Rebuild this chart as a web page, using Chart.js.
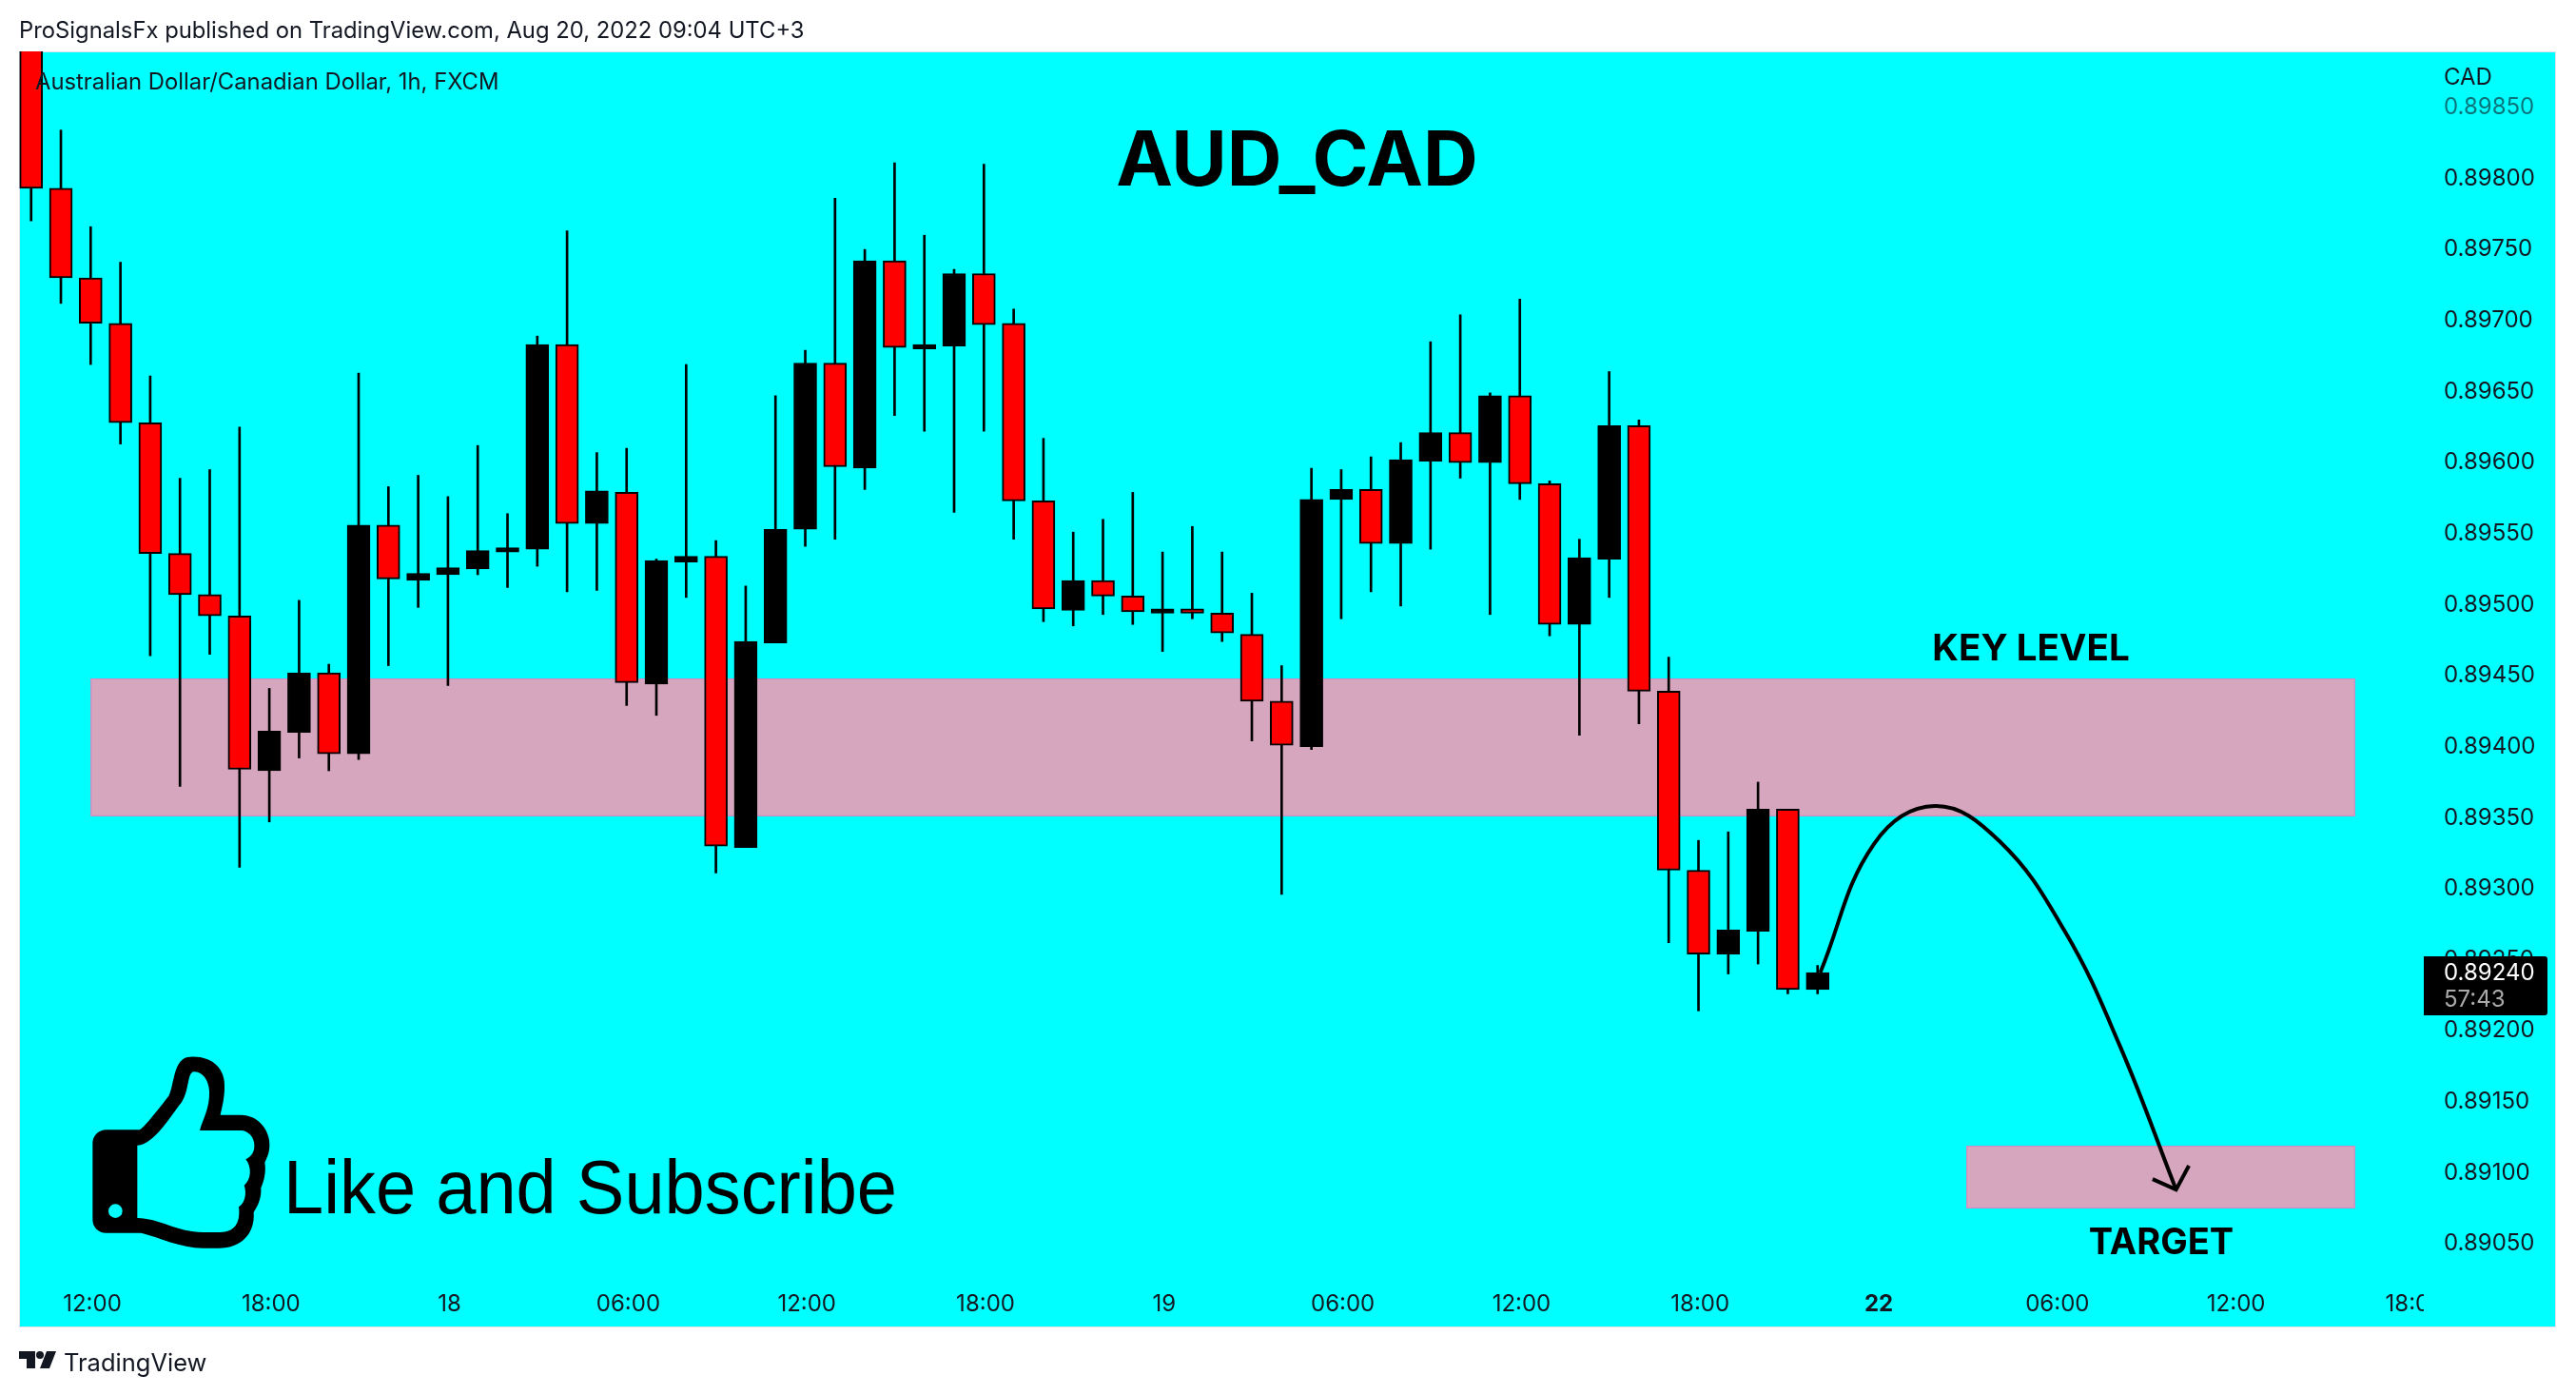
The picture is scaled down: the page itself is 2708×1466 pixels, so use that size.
<!DOCTYPE html>
<html>
<head>
<meta charset="utf-8">
<title>AUD_CAD</title>
<script src="https://cdn.jsdelivr.net/npm/chart.js@4"></script>
<style>
  html, body { margin: 0; padding: 0; background: #fff; }
  canvas { display: block; }
</style>
</head>
<body>
<canvas id="grafica" width="2708" height="1466"></canvas>
<script>
const opens = [0.89938,0.89792,0.89729,0.89697,0.89627,0.89535,0.89506,0.89491,0.89382,0.89409,
  0.89451,0.89394,0.89555,0.89516,0.89520,0.89524,0.89536,0.89538,0.89682,0.89556,
  0.89578,0.89443,0.89529,0.89533,0.89328,0.89472,0.89552,0.89669,0.89595,0.89741,
  0.89679,0.89681,0.89732,0.89697,0.89572,0.89495,0.89516,0.89505,0.89493,0.89496,
  0.89493,0.89478,0.89431,0.89399,0.89573,0.89580,0.89542,0.89600,0.89620,0.89599,
  0.89646,0.89584,0.89485,0.89531,0.89625,0.89438,0.89312,0.89253,0.89269,0.89355,0.89228];
const highs = [0.89950,0.89833,0.89765,0.89740,0.89660,0.89588,0.89594,0.89624,0.89440,0.89502,
  0.89457,0.89662,0.89582,0.89590,0.89575,0.89611,0.89563,0.89688,0.89762,0.89606,
  0.89609,0.89531,0.89668,0.89544,0.89512,0.89646,0.89678,0.89785,0.89749,0.89810,
  0.89759,0.89735,0.89809,0.89707,0.89616,0.89550,0.89559,0.89578,0.89536,0.89554,
  0.89536,0.89507,0.89456,0.89595,0.89594,0.89603,0.89613,0.89684,0.89703,0.89648,
  0.89714,0.89586,0.89545,0.89663,0.89629,0.89462,0.89333,0.89339,0.89374,0.89355,0.89245];
const lows = [0.89769,0.89711,0.89668,0.89612,0.89463,0.89371,0.89464,0.89314,0.89346,0.89391,
  0.89382,0.89390,0.89456,0.89497,0.89442,0.89520,0.89511,0.89526,0.89508,0.89509,
  0.89428,0.89421,0.89504,0.89310,0.89328,0.89472,0.89540,0.89545,0.89580,0.89632,
  0.89621,0.89564,0.89621,0.89545,0.89487,0.89484,0.89492,0.89485,0.89466,0.89489,
  0.89473,0.89403,0.89295,0.89397,0.89489,0.89508,0.89498,0.89538,0.89588,0.89492,
  0.89573,0.89477,0.89407,0.89504,0.89415,0.89261,0.89213,0.89239,0.89246,0.89225,0.89225];
const closes = [0.89792,0.89729,0.89697,0.89627,0.89535,0.89506,0.89491,0.89383,0.89410,0.89451,
  0.89394,0.89555,0.89517,0.89521,0.89525,0.89537,0.89539,0.89682,0.89556,0.89579,
  0.89444,0.89530,0.89533,0.89329,0.89473,0.89552,0.89669,0.89596,0.89741,0.89680,
  0.89682,0.89732,0.89696,0.89572,0.89496,0.89516,0.89505,0.89494,0.89496,0.89493,
  0.89479,0.89431,0.89400,0.89573,0.89580,0.89542,0.89601,0.89620,0.89599,0.89646,
  0.89584,0.89485,0.89532,0.89625,0.89438,0.89312,0.89253,0.89270,0.89355,0.89228,0.89240];

const timeTickIdx = [2,8,14,20,26,32,38,44,50,56,62,68,74,80];
const timeTickLabels = ["12:00","18:00","18","06:00","12:00","18:00","19","06:00","12:00","18:00","22","06:00","12:00","18:00"];
const priceTicks = [0.8905,0.8910,0.8915,0.8920,0.8925,0.8930,0.8935,0.8940,0.8945,0.8950,0.8955,0.8960,0.8965,0.8970,0.8975,0.8980,0.8985];

// zonas: bar inicial, bar final, precio arriba, precio abajo
const keyZone = [2, 78.05, 0.89447, 0.89350];
const targetZone = [65, 78.05, 0.89118, 0.89074];

// curva dibujada a mano que termina en la flecha
const curveIdx = [60.09,61.89,63.94,66.11,68.31,70.14,72.04];
const curvePrice = [0.89240,0.893304,0.893572,0.893324,0.892688,0.891890,0.890872];
const arrowIdx = [71.25,72.04,72.47];
const arrowPrice = [0.890946,0.890872,0.891040];

const ctx = document.getElementById("grafica").getContext("2d");
const tvFont = "Inter, sans-serif";
const ink = "#131722";

function zoneBox(c, scales, zone) {
  const x0 = scales.x.getPixelForValue(zone[0]);
  const x1 = scales.x.getPixelForValue(zone[1]);
  const y0 = scales.y.getPixelForValue(zone[2]);
  const y1 = scales.y.getPixelForValue(zone[3]);
  c.fillStyle = "#d6a6be";
  c.fillRect(x0, y0, x1 - x0, y1 - y0);
  c.strokeStyle = "#d185c4";
  c.lineWidth = 1;
  c.strokeRect(x0 + 0.5, y0 + 0.5, x1 - x0 - 1, y1 - y0 - 1);
}

function text(c, str, x, y, font, color, align) {
  c.font = font;
  c.fillStyle = color;
  c.textAlign = align || "left";
  c.textBaseline = "alphabetic";
  c.fillText(str, x, y);
}

// icono del pulgar, coordenadas del recorte
function thumb(c) {
  c.save();
  c.translate(90, 1100);
  c.scale(1 / 3, 1 / 3);
  const p = new Path2D();
  p.moveTo(65, 262);
  p.lineTo(170, 262);
  p.bezierCurveTo(185, 255, 235, 190, 262, 155);
  p.bezierCurveTo(280, 125, 275, 32, 330, 32);
  p.bezierCurveTo(400, 28, 442, 70, 438, 130);
  p.bezierCurveTo(438, 160, 430, 195, 425, 215);
  p.lineTo(490, 215);
  p.bezierCurveTo(545, 215, 582, 265, 580, 310);
  p.bezierCurveTo(580, 335, 572, 350, 565, 365);
  p.bezierCurveTo(570, 395, 562, 425, 553, 445);
  p.bezierCurveTo(555, 475, 545, 500, 530, 522);
  p.bezierCurveTo(535, 590, 490, 635, 420, 635);
  p.lineTo(370, 635);
  p.bezierCurveTo(300, 635, 230, 600, 175, 587);
  p.lineTo(65, 587);
  p.bezierCurveTo(40, 587, 22, 568, 22, 545);
  p.lineTo(22, 305);
  p.bezierCurveTo(22, 282, 40, 262, 65, 262);
  p.closePath();
  p.moveTo(163, 311);
  p.lineTo(163, 540);
  p.bezierCurveTo(230, 540, 290, 585, 370, 585);
  p.lineTo(425, 585);
  p.bezierCurveTo(465, 585, 490, 560, 483, 505);
  p.bezierCurveTo(500, 495, 510, 465, 500, 437);
  p.bezierCurveTo(522, 420, 525, 380, 505, 355);
  p.bezierCurveTo(525, 345, 533, 330, 532, 310);
  p.bezierCurveTo(532, 285, 512, 264, 490, 264);
  p.lineTo(360, 264);
  p.bezierCurveTo(370, 225, 392, 195, 390, 140);
  p.bezierCurveTo(388, 100, 365, 78, 340, 79);
  p.bezierCurveTo(320, 85, 328, 135, 303, 175);
  p.bezierCurveTo(270, 215, 215, 311, 163, 311);
  p.closePath();
  p.moveTo(116, 518);
  p.arc(94, 518, 22, 0, Math.PI * 2);
  p.closePath();
  c.fillStyle = "#000";
  c.fill(p, "evenodd");
  c.restore();
}

function tvLogo(c) {
  c.fillStyle = ink;
  c.beginPath();
  c.moveTo(20, 1420);
  c.lineTo(37, 1420);
  c.lineTo(37, 1438);
  c.lineTo(28, 1438);
  c.lineTo(28, 1428);
  c.lineTo(20, 1428);
  c.closePath();
  c.moveTo(46, 1424);
  c.arc(42, 1424, 4, 0, Math.PI * 2);
  c.closePath();
  c.moveTo(49, 1420);
  c.lineTo(59, 1420);
  c.lineTo(52, 1438);
  c.lineTo(42, 1438);
  c.closePath();
  c.fill();
  text(c, "TradingView", 67, 1441, "25.5px " + tvFont, ink);
}

const fondo = {
  id: "fondo",
  beforeDraw(chart) {
    const c = chart.ctx;
    c.save();
    c.fillStyle = "#fff";
    c.fillRect(0, 0, 2708, 1466);
    c.fillStyle = "#00ffff";
    c.fillRect(20, 54, 2667, 1341);
    c.strokeStyle = "#e0e3eb";
    c.lineWidth = 1;
    c.strokeRect(20.5, 54.5, 2666, 1340);
    c.restore();
  },
  beforeDatasetsDraw(chart) {
    const c = chart.ctx;
    c.save();
    zoneBox(c, chart.scales, keyZone);
    zoneBox(c, chart.scales, targetZone);
    c.restore();
  },
  afterDraw(chart) {
    const c = chart.ctx;
    c.save();
    // la etiqueta de 18:00 se corta en la escala de precios
    c.fillStyle = "#00ffff";
    c.fillRect(2548, 1342, 110, 52);
    text(c, "ProSignalsFx published on TradingView.com, Aug 20, 2022 09:04 UTC+3", 20, 40, "23.8px " + tvFont, ink);
    text(c, "Australian Dollar/Canadian Dollar, 1h, FXCM", 37, 94, "23.8px " + tvFont, ink);
    text(c, "AUD_CAD", 1363.5, 195, "bold 80px " + tvFont, "#000", "center");
    text(c, "KEY LEVEL", 2135, 694, "bold 38.5px " + tvFont, "#000", "center");
    text(c, "TARGET", 2272, 1318, "bold 38px " + tvFont, "#000", "center");
    // mas alta y un poco mas estrecha que Liberation Sans normal
    c.save();
    c.translate(298, 1275);
    c.scale(0.96, 1);
    text(c, "Like and Subscribe", 0, 0, "79px 'Liberation Sans', sans-serif", "#000");
    c.restore();
    text(c, "CAD", 2569, 89, "24px " + tvFont, ink);
    thumb(c);
    // etiqueta del ultimo precio
    c.fillStyle = "#000";
    c.beginPath();
    c.roundRect(2548, 1005, 130, 62, [0, 3, 3, 0]);
    c.fill();
    text(c, closes[closes.length - 1].toFixed(5), 2569, 1030, "24px " + tvFont, "#fff");
    text(c, "57:43", 2569, 1058, "24px " + tvFont, "#aaaaaa");
    tvLogo(c);
    c.restore();
  }
};

const bodies = closes.map((v, i) => ({ x: i, y: [opens[i], v] }));
const wicks = closes.map((v, i) => ({ x: i, y: [lows[i], highs[i]] }));
const curve = curveIdx.map((v, i) => ({ x: v, y: curvePrice[i] }));
const arrow = arrowIdx.map((v, i) => ({ x: v, y: arrowPrice[i] }));

new Chart(ctx, {
  data: {
    datasets: [
      { type: "line", data: arrow, borderColor: "#000", borderWidth: 4, pointRadius: 0, tension: 0 },
      { type: "line", data: curve, borderColor: "#000", borderWidth: 4, pointRadius: 0, tension: 0.4 },
      {
        type: "bar", data: bodies, grouped: false, barThickness: 24,
        backgroundColor: closes.map((v, i) => v < opens[i] ? "#ff0000" : "#000000"),
        borderColor: "#000", borderWidth: 2, borderSkipped: false
      },
      { type: "bar", data: wicks, grouped: false, barThickness: 2, backgroundColor: "#000", borderWidth: 0 }
    ]
  },
  options: {
    responsive: false,
    animation: false,
    devicePixelRatio: 1,
    layout: { autoPadding: false, padding: { left: 20, right: 21, top: 54, bottom: 71 } },
    plugins: { legend: { display: false }, tooltip: { enabled: false } },
    scales: {
      x: {
        type: "linear",
        offset: false,
        min: -0.406,
        max: 80.36,
        grid: { display: false, drawTicks: false },
        border: { display: false },
        afterFit(scale) { scale.height = 55; },
        afterBuildTicks(scale) { scale.ticks = timeTickIdx.map(v => ({ value: v })); },
        ticks: {
          autoSkip: false,
          maxRotation: 0,
          padding: 16,
          labelOffset: 1.7,
          color: ink,
          font: c => ({ family: "Inter", size: 24, weight: c.tick && c.tick.value === 62 ? "bold" : "normal" }),
          callback: v => timeTickLabels[timeTickIdx.indexOf(v)]
        }
      },
      y: {
        type: "linear",
        position: "right",
        min: 0.890270,
        max: 0.898884,
        grid: { display: false, drawTicks: false },
        border: { display: false },
        afterFit(scale) { scale.width = 139; },
        afterBuildTicks(scale) { scale.ticks = priceTicks.map(v => ({ value: v })); },
        ticks: {
          padding: 21,
          labelOffset: 1.5,
          crossAlign: "near",
          color: c => c.tick && c.tick.value === 0.8985 ? "rgba(19,23,34,0.6)" : ink,
          font: { family: "Inter", size: 24 },
          callback: v => v.toFixed(5)
        }
      }
    }
  },
  plugins: [fondo]
});
</script>
</body>
</html>
